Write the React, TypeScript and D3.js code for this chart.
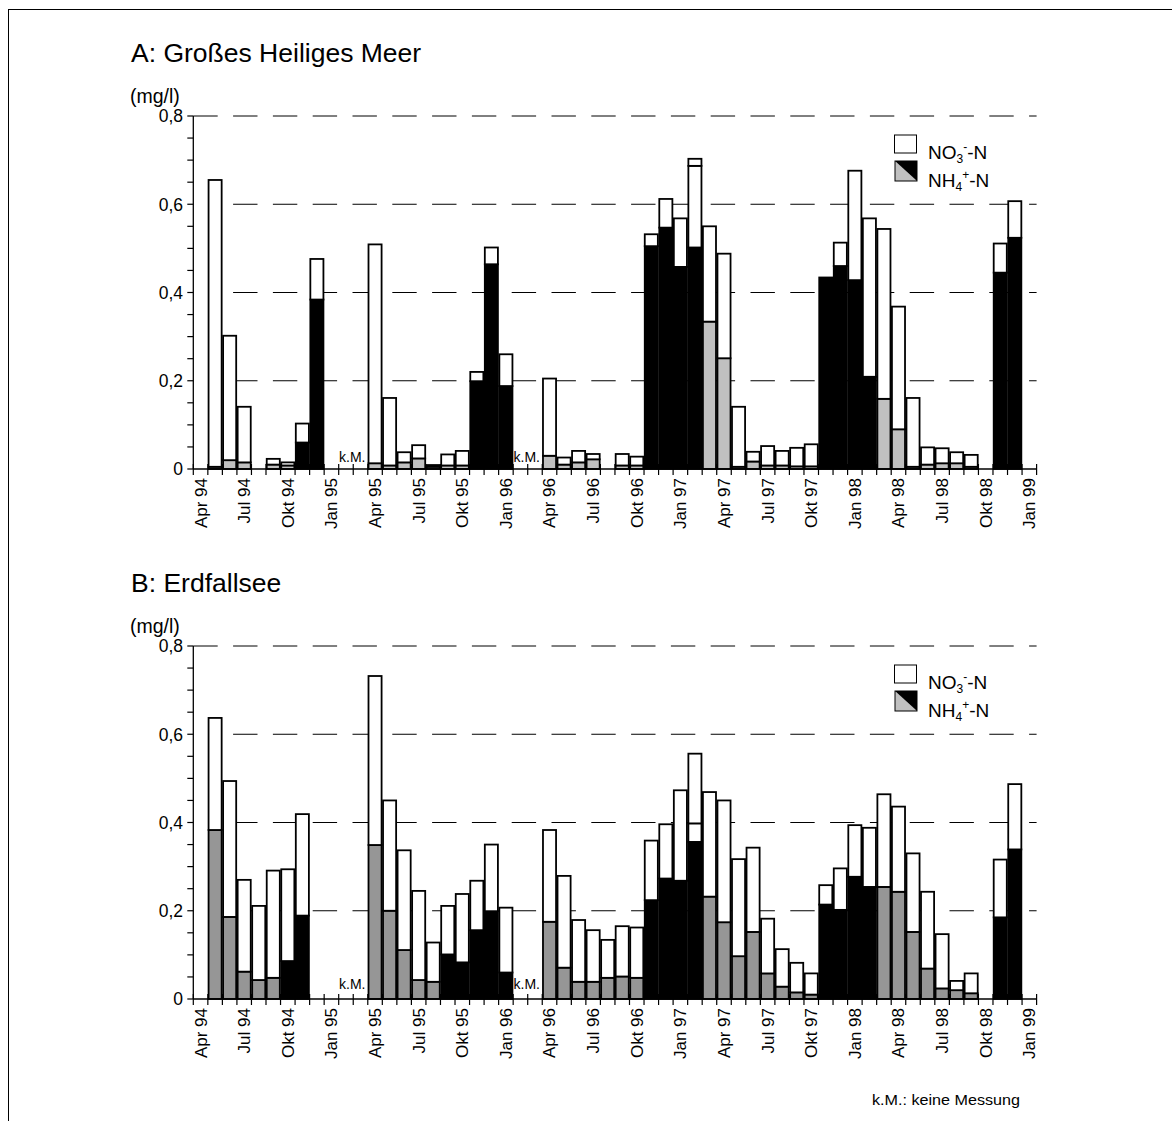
import React from "react";
import * as d3 from "d3";

// ---- categories ----
const months = [
  "Apr 94","Mai 94","Jun 94","Jul 94","Aug 94","Sep 94","Okt 94","Nov 94","Dez 94",
  "Jan 95","Feb 95","Mär 95","Apr 95","Mai 95","Jun 95","Jul 95","Aug 95","Sep 95","Okt 95","Nov 95","Dez 95",
  "Jan 96","Feb 96","Mär 96","Apr 96","Mai 96","Jun 96","Jul 96","Aug 96","Sep 96","Okt 96","Nov 96","Dez 96",
  "Jan 97","Feb 97","Mär 97","Apr 97","Mai 97","Jun 97","Jul 97","Aug 97","Sep 97","Okt 97","Nov 97","Dez 97",
  "Jan 98","Feb 98","Mär 98","Apr 98","Mai 98","Jun 98","Jul 98","Aug 98","Sep 98","Okt 98","Nov 98","Dez 98",
  "Jan 99"
];

const xTickLabels = [
  "Apr 94","Jul 94","Okt 94","Jan 95","Apr 95","Jul 95","Okt 95","Jan 96","Apr 96","Jul 96",
  "Okt 96","Jan 97","Apr 97","Jul 97","Okt 97","Jan 98","Apr 98","Jul 98","Okt 98","Jan 99"
];
const yTickValues = [0, 0.2, 0.4, 0.6, 0.8];
const yTickLabels = ["0", "0,2", "0,4", "0,6", "0,8"];

// ---- A: Großes Heiliges Meer (mg/l) ----
const nh4A = [
  null, 0.005, 0.02, 0.015, null, 0.01, 0.008, 0.06, 0.384,
  null, null, null, 0.013, 0.008, 0.015, 0.024, 0.005, 0.008, 0.008, 0.199, 0.464,
  0.188, null, null, 0.03, 0.01, 0.015, 0.022, null, 0.008, 0.008, 0.505, 0.547,
  0.458, 0.502, 0.334, 0.251, 0.005, 0.017, 0.008, 0.008, 0.006, 0.006, 0.434, 0.46,
  0.428, 0.209, 0.159, 0.09, 0.005, 0.01, 0.013, 0.013, 0.005, null, 0.445, 0.524,
  null
];
const no3A = [
  null, 0.65, 0.282, 0.126, null, 0.013, 0.007, 0.043, 0.092,
  null, null, null, 0.496, 0.153, 0.023, 0.03, 0.004, 0.025, 0.033, 0.021, 0.038,
  0.072, null, null, 0.175, 0.016, 0.026, 0.012, null, 0.026, 0.02, 0.027, 0.065,
  0.11, 0.185, 0.216, 0.237, 0.136, 0.022, 0.044, 0.033, 0.042, 0.05, 0, 0.053,
  0.248, 0.359, 0.385, 0.278, 0.156, 0.039, 0.034, 0.025, 0.027, null, 0.066, 0.083,
  null
];
const no3ExtraA = [
  0, 0, 0, 0, 0, 0, 0, 0, 0,
  0, 0, 0, 0, 0, 0, 0, 0, 0, 0, 0, 0,
  0, 0, 0, 0, 0, 0, 0, 0, 0, 0, 0, 0,
  0, 0.016, 0, 0, 0, 0, 0, 0, 0, 0, 0, 0,
  0, 0, 0, 0, 0, 0, 0, 0, 0, 0, 0, 0,
  0
];
// 1 = NH4 shown in black, 0 = grey
const darkA = [
  0, 0, 0, 0, 0, 0, 0, 1, 1,
  0, 0, 0, 0, 0, 0, 0, 0, 0, 0, 1, 1,
  1, 0, 0, 0, 0, 0, 0, 0, 0, 0, 1, 1,
  1, 1, 0, 0, 0, 0, 0, 0, 0, 0, 1, 1,
  1, 1, 0, 0, 0, 0, 0, 0, 0, 0, 1, 1,
  0
];
const kmA = ["Apr 95", "Apr 96"];

// ---- B: Erdfallsee (mg/l) ----
const nh4B = [
  null, 0.383, 0.186, 0.062, 0.043, 0.048, 0.086, 0.189, null,
  null, null, null, 0.349, 0.2, 0.111, 0.043, 0.039, 0.101, 0.083, 0.156, 0.199,
  0.06, null, null, 0.175, 0.071, 0.039, 0.039, 0.048, 0.051, 0.048, 0.224, 0.273,
  0.268, 0.356, 0.232, 0.174, 0.097, 0.152, 0.058, 0.028, 0.015, 0.01, 0.214, 0.202,
  0.277, 0.254, 0.254, 0.243, 0.152, 0.069, 0.024, 0.02, 0.013, null, 0.185, 0.339,
  null
];
const no3B = [
  null, 0.254, 0.308, 0.208, 0.168, 0.243, 0.208, 0.23, null,
  null, null, null, 0.383, 0.25, 0.226, 0.202, 0.089, 0.11, 0.155, 0.112, 0.151,
  0.147, null, null, 0.208, 0.208, 0.14, 0.117, 0.086, 0.114, 0.114, 0.135, 0.123,
  0.205, 0.042, 0.237, 0.276, 0.22, 0.191, 0.124, 0.085, 0.067, 0.048, 0.044, 0.094,
  0.117, 0.134, 0.21, 0.193, 0.178, 0.174, 0.123, 0.021, 0.045, null, 0.131, 0.148,
  null
];
const no3ExtraB = [
  0, 0, 0, 0, 0, 0, 0, 0, 0,
  0, 0, 0, 0, 0, 0, 0, 0, 0, 0, 0, 0,
  0, 0, 0, 0, 0, 0, 0, 0, 0, 0, 0, 0,
  0, 0.158, 0, 0, 0, 0, 0, 0, 0, 0, 0, 0,
  0, 0, 0, 0, 0, 0, 0, 0, 0, 0, 0, 0,
  0
];
const darkB = [
  0, 0, 0, 0, 0, 0, 1, 1, 0,
  0, 0, 0, 0, 0, 0, 0, 0, 1, 1, 1, 1,
  1, 0, 0, 0, 0, 0, 0, 0, 0, 0, 1, 1,
  1, 1, 0, 0, 0, 0, 0, 0, 0, 0, 1, 1,
  1, 1, 0, 0, 0, 0, 0, 0, 0, 0, 1, 1,
  0
];
const kmB = ["Apr 95", "Apr 96"];

const FONT = "'Liberation Sans', Arial, Helvetica, sans-serif";
const W = 1172;
const H = 1121;

type PanelProps = {
  off: number;
  title: string;
  nh4: (number | null)[];
  no3: (number | null)[];
  extra: number[];
  dark: number[];
  grey: string;
  km: string[];
  kmLift: number;
};

function Panel({ off, title, nh4, no3, extra, dark, grey, km, kmLift }: PanelProps) {
  const x0 = 193.3;
  const x1 = 1036.6;
  const y0 = 469 + off;
  const yTop = 116 + off;
  const x = d3.scaleBand<string>().domain(months).range([x0, x1]).paddingInner(0.1).paddingOuter(0.05);
  const y = d3.scaleLinear().domain([0, 0.8]).range([y0, yTop]);
  const step = x.step();
  const bw = x.bandwidth();
  const boundary = (i: number) => x0 + i * step;

  const rows = months.map((m, i) => ({
    m,
    nh4: nh4[i] ?? 0,
    no3: no3[i] ?? 0,
    extra: extra[i] ?? 0,
  }));
  const series = d3.stack<any>().keys(["nh4", "no3", "extra"])(rows);

  const minorTicks = d3.range(0, 17).map((k) => k * 0.05);
  const period = 39.8;
  const dash = "24.4 15.4";

  return (
    <g>
      <text x={131} y={62 + off} fontSize={26.5} fontFamily={FONT}>{title}</text>
      <text x={130} y={103 + off} fontSize={19.5} fontFamily={FONT}>(mg/l)</text>

      {/* gridlines */}
      {yTickValues.filter((v) => v > 0).map((v) => (
        <line
          key={"g" + v}
          x1={v === 0.8 ? x0 : x0 + period}
          x2={x1}
          y1={y(v)}
          y2={y(v)}
          stroke="#000"
          strokeWidth={1}
          strokeDasharray={dash}
        />
      ))}

      {/* x ticks (cross) */}
      {d3.range(0, months.length + 1).map((i) => (
        <line key={"xt" + i} x1={boundary(i)} x2={boundary(i)} y1={y0 - 5} y2={y0 + 6} stroke="#000" strokeWidth={1.2} />
      ))}

      {/* bars */}
      {months.map((m, i) => {
        if (nh4[i] === null || nh4[i] === undefined) return null;
        const bx = x(m)!;
        return (
          <g key={"b" + i}>
            {series.map((s) => {
              const d = s[i];
              if (d[1] - d[0] <= 0) return null;
              const fill = s.key === "nh4" ? (dark[i] ? "#000" : grey) : "#fff";
              return (
                <rect
                  key={s.key}
                  x={bx}
                  y={y(d[1])}
                  width={bw}
                  height={y(d[0]) - y(d[1])}
                  fill={fill}
                  stroke="#000"
                  strokeWidth={1.8}
                />
              );
            })}
          </g>
        );
      })}

      {/* axes */}
      <line x1={x0} x2={x1} y1={y0} y2={y0} stroke="#000" strokeWidth={1.3} />
      <line x1={x0} x2={x0} y1={yTop} y2={y0} stroke="#000" strokeWidth={1.3} />
      {minorTicks.map((v) => (
        <line key={"yt" + v} x1={x0 - 6} x2={x0} y1={y(v)} y2={y(v)} stroke="#000" strokeWidth={1.2} />
      ))}
      {yTickValues.map((v, k) => (
        <text key={"yl" + v} x={183} y={y(v)} dy="0.36em" textAnchor="end" fontSize={17.5} fontFamily={FONT}>
          {yTickLabels[k]}
        </text>
      ))}
      {xTickLabels.map((lab) => {
        const cx = x(lab)! - step * 0.05 + step / 2;
        const ty = y0 + 9;
        return (
          <text
            key={"xl" + lab}
            transform={`translate(${cx},${ty}) rotate(-90)`}
            dy="0.35em"
            textAnchor="end"
            fontSize={17}
            fontFamily={FONT}
          >
            {lab}
          </text>
        );
      })}

      {/* k.M. annotations */}
      {km.map((m) => (
        <text key={"km" + m} x={x(m)! - 3} y={y0 - kmLift} textAnchor="end" fontSize={14} fontFamily={FONT}>
          k.M.
        </text>
      ))}

      {/* legend */}
      <rect x={894.5} y={135 + off} width={22} height={18} fill="#fff" stroke="#000" strokeWidth={1} />
      <polygon points={`895,${161 + off} 917,${181 + off} 895,${181 + off}`} fill="#c0c0c0" />
      <polygon points={`895,${161 + off} 917,${161 + off} 917,${181 + off}`} fill="#000" />
      <rect x={895} y={161 + off} width={22} height={20} fill="none" stroke="#000" strokeWidth={1} />
      <text x={928} y={159 + off} fontSize={19} fontFamily={FONT}>
        NO<tspan dy={4} fontSize={12}>3</tspan><tspan dy={-12} fontSize={12}>-</tspan><tspan dy={8}>-N</tspan>
      </text>
      <text x={928} y={187 + off} fontSize={19} fontFamily={FONT}>
        NH<tspan dy={4} fontSize={12}>4</tspan><tspan dy={-12} fontSize={12}>+</tspan><tspan dy={8}>-N</tspan>
      </text>
    </g>
  );
}

export default function App() {
  return (
    <div style={{ position: "absolute", left: 0, top: 0 }}>
      <svg width={W} height={H} viewBox={`0 0 ${W} ${H}`} style={{ display: "block", background: "#fff" }}>
        <rect x={0} y={0} width={W} height={H} fill="#fff" />
        <line x1={8} x2={W} y1={9.5} y2={9.5} stroke="#000" strokeWidth={1} />
        <line x1={8.5} x2={8.5} y1={9} y2={H} stroke="#000" strokeWidth={1} />
        <Panel off={0} title="A: Großes Heiliges Meer" nh4={nh4A} no3={no3A} extra={no3ExtraA} dark={darkA} grey="#c0c0c0" km={kmA} kmLift={7.5} />
        <Panel off={530} title="B: Erdfallsee" nh4={nh4B} no3={no3B} extra={no3ExtraB} dark={darkB} grey="#969696" km={kmB} kmLift={10.5} />
        <text x={1020} y={1105} textAnchor="end" fontSize={14} textLength={148} lengthAdjust="spacingAndGlyphs" fontFamily={FONT}>
          k.M.: keine Messung
        </text>
      </svg>
    </div>
  );
}
